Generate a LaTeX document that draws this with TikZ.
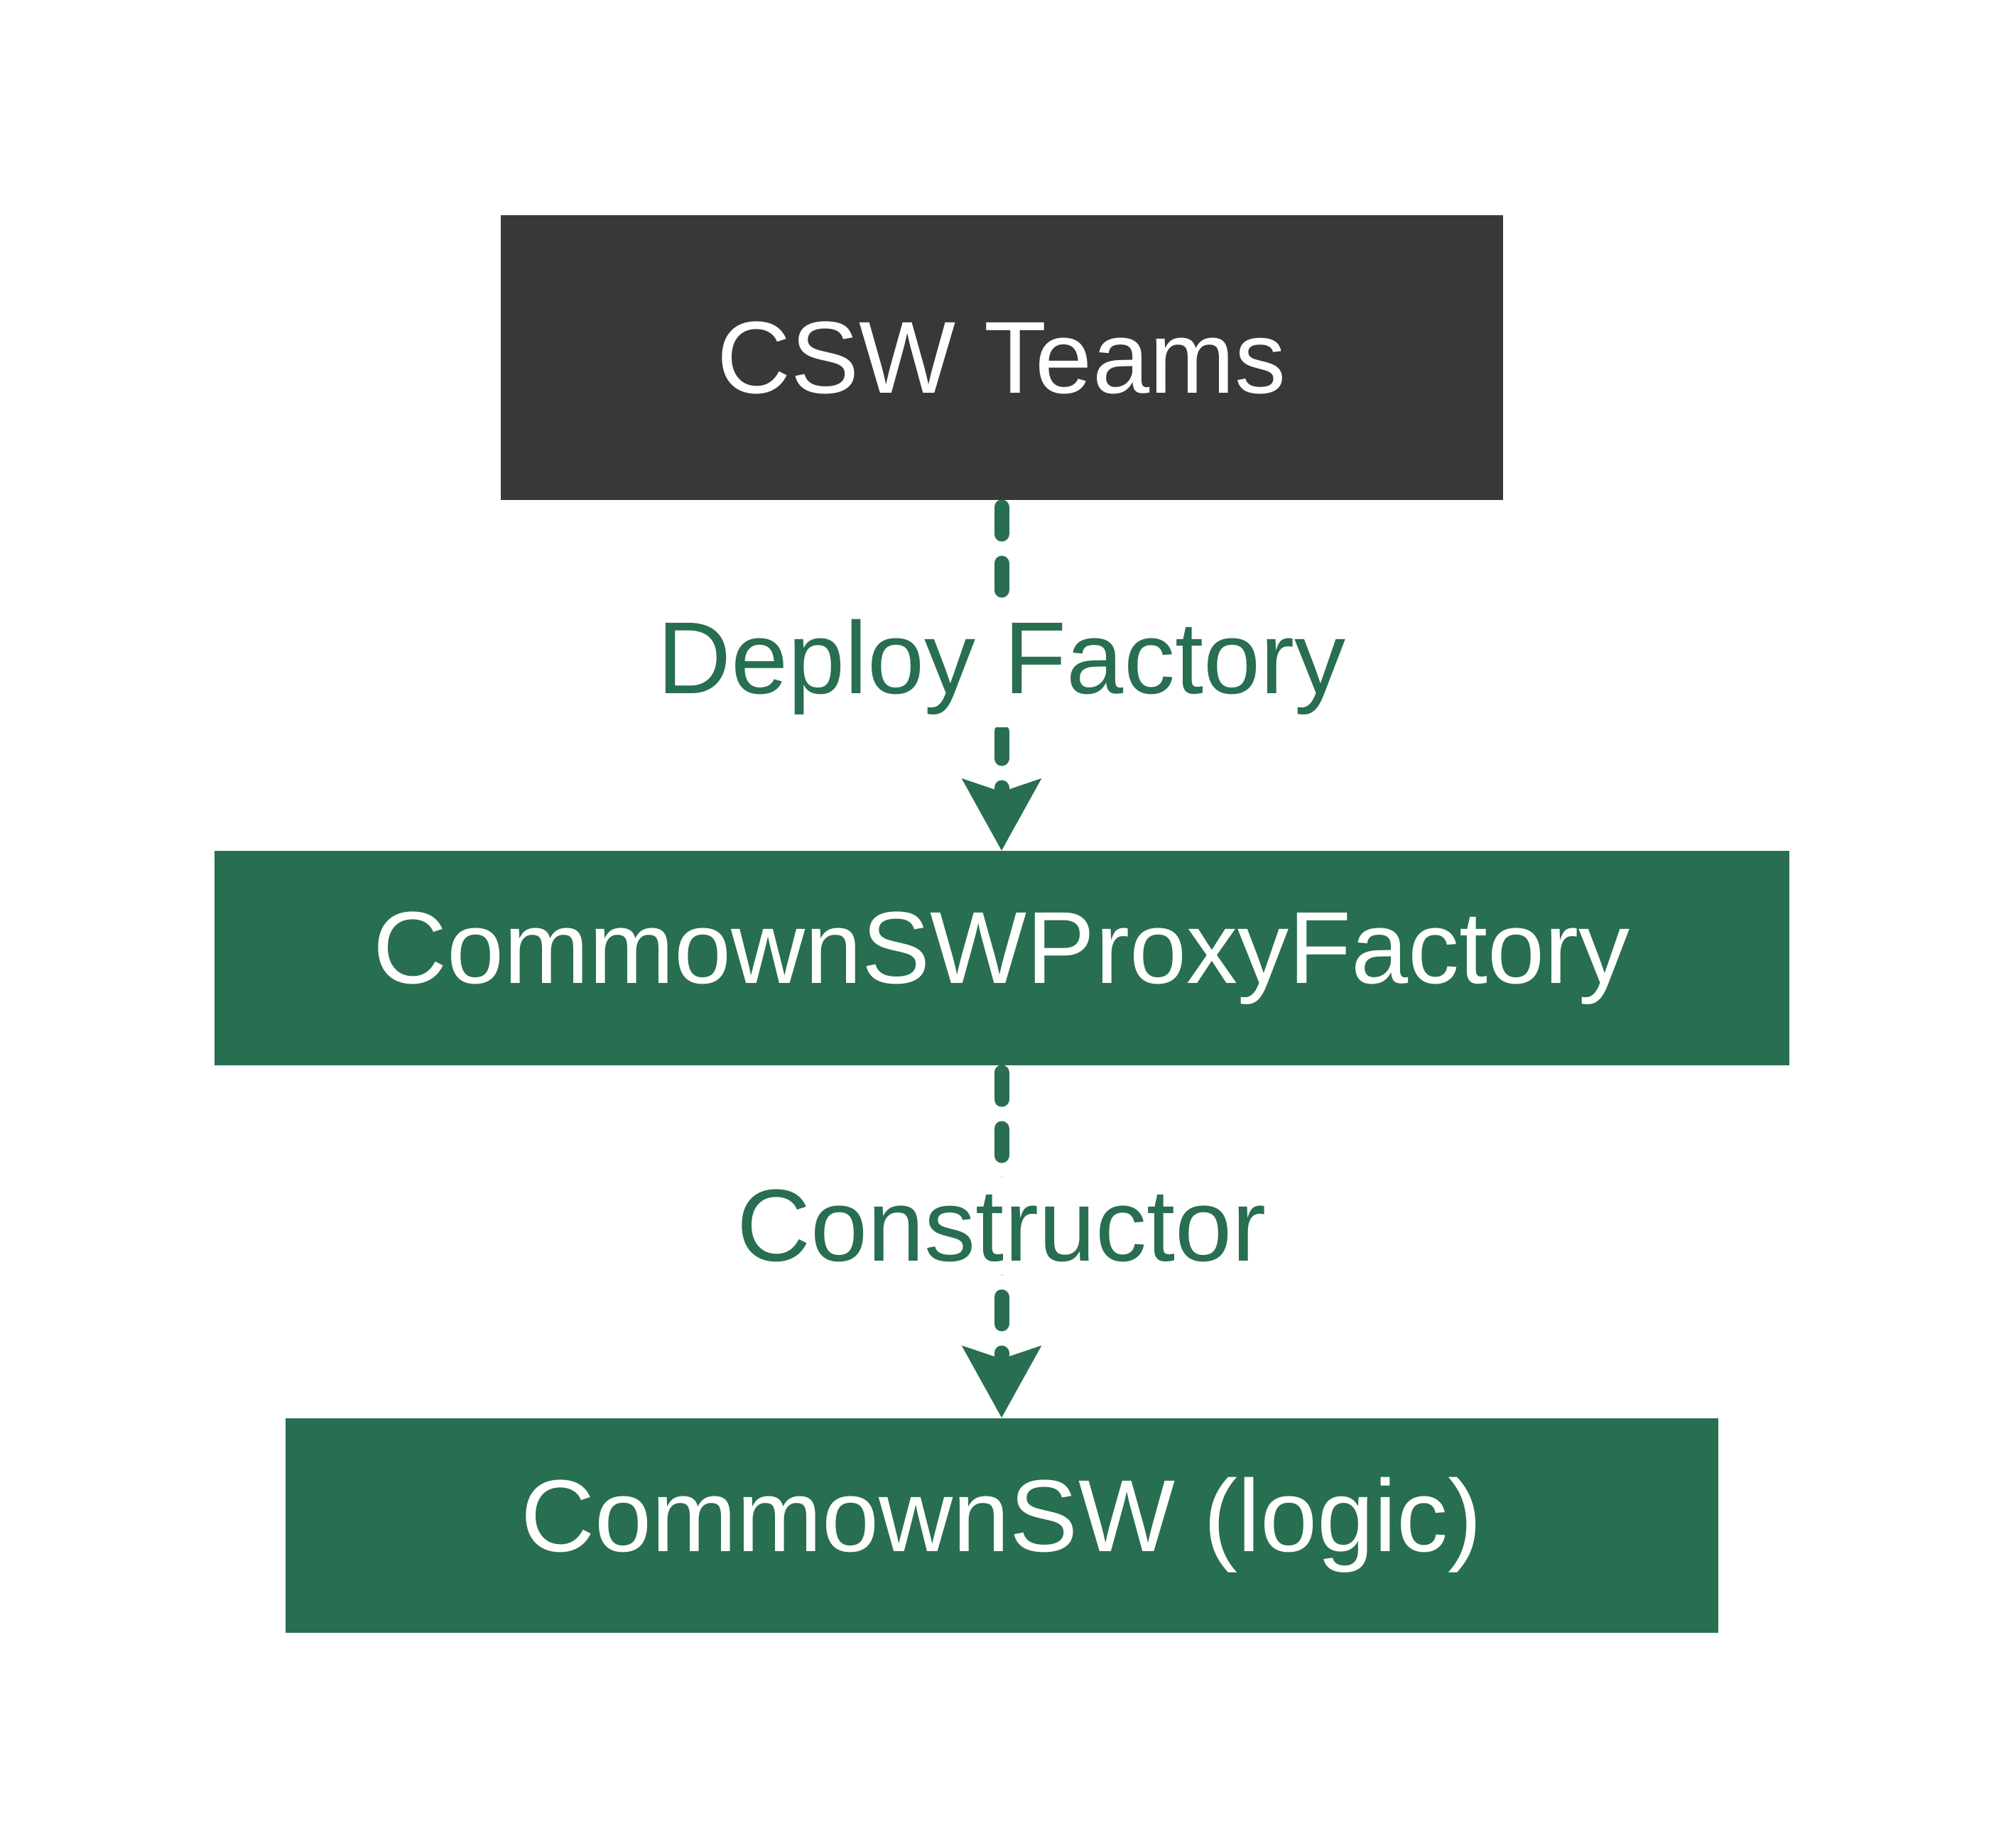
\documentclass[tikz,border=0pt]{standalone}
\usepackage{fontspec}
\setmainfont{Liberation Sans}
\usepackage{xcolor}
\usepackage{tikz}
\usetikzlibrary{arrows.meta,positioning}
\definecolor{deployDark}{HTML}{383838}
\definecolor{deployGreen}{HTML}{286E50}
\tikzset{
  box/.style={rectangle, inner sep=0pt, outer sep=0pt, text=white,
    font=\fontsize{41}{49}\selectfont, minimum width=#1},
  box/.default={20cm},
  team/.style={box=14.11cm, fill=deployDark, minimum height=4.01cm},
  contract/.style={box=#1, fill=deployGreen, minimum height=3.02cm},
}
\begin{document}
\begin{tikzpicture}[
  flow/.style={draw=deployGreen, line width=0.21cm, line cap=round,
    dash pattern=on 0.38cm off 0.41cm, shorten <=1mm,
    -{Stealth[length=1cm, width=1.08cm, inset=0.17cm]}},
  lbl/.style={fill=white, text=deployGreen, inner sep=5pt,
    font=\fontsize{41}{49}\selectfont}]
\useasboundingbox (0,0) rectangle (28.24,-26.02);
\node[team] (teams) at (14.1,-5.035) {CSW Teams};
\node[contract=22.17cm] (factory) at (14.1,-13.49) {CommownSWProxyFactory};
\node[contract=20.17cm] (logic) at (14.1,-21.475) {CommownSW (logic)};
\draw[flow] (teams) -- node[lbl, yshift=1.2mm] {Deploy Factory} (factory);
\draw[flow] (factory) -- node[lbl, yshift=2.2mm] {Constructor} (logic);
\end{tikzpicture}
\end{document}
